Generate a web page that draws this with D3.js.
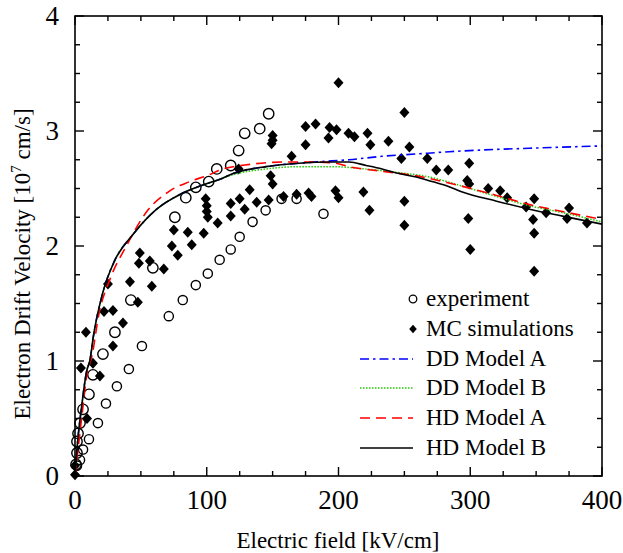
<!DOCTYPE html>
<html>
<head>
<meta charset="utf-8">
<script src="https://cdn.jsdelivr.net/npm/d3@7"></script>
<style>
  html, body { margin: 0; padding: 0; background: #fff; }
  svg { display: block; font-family: "Liberation Serif", "Times New Roman", serif; }
</style>
</head>
<body>
<svg id="chart" width="623" height="553"></svg>
<script>
// experiment, upper branch
const expUpperX = [0.8, 1.5, 1.5, 2.3, 3.8, 6.1, 10.6, 13.6, 21.2, 30.3, 42.4, 59.1, 75.8, 84.1, 91.7, 101.5, 107.6, 118.2, 124.2, 128.8, 140.2, 147.0];
const expUpperY = [0.10, 0.20, 0.30, 0.37, 0.46, 0.58, 0.71, 0.88, 1.06, 1.25, 1.53, 1.81, 2.25, 2.42, 2.51, 2.56, 2.67, 2.70, 2.83, 2.98, 3.02, 3.15];
// experiment, lower branch
const expLowerX = [1.5, 3.8, 6.1, 10.6, 17.4, 23.5, 31.8, 40.9, 50.8, 71.2, 81.8, 91.7, 100.8, 109.8, 118.2, 125.0, 134.8, 144.7, 156.8, 168.2, 188.6];
const expLowerY = [0.09, 0.14, 0.23, 0.32, 0.46, 0.63, 0.78, 0.93, 1.13, 1.39, 1.53, 1.66, 1.76, 1.88, 1.97, 2.08, 2.21, 2.31, 2.41, 2.41, 2.28];

// MC simulations
const mcX = [0, 0, 9.1, 4.5, 13.6, 18.9, 8.3, 28.8, 36.4, 22.0, 28.8, 25.0, 47.7, 41.7, 58.3, 49.2, 48.5, 56.8, 67.4, 73.5,
  78.0, 88.6, 75.0, 85.6, 97.7, 99.2, 100.0, 100.0, 100.8, 108.3, 118.2, 128.8, 118.2, 125.0, 132.6, 137.9, 147.0, 124.2, 148.5, 150.0,
  150.0, 150.0, 149.2, 158.3, 164.4, 168.2, 177.3, 179.5, 175.0, 182.6, 175.0, 193.2, 198.5, 192.4, 200.0, 197.7, 200.0, 207.6, 212.1, 222.0,
  224.2, 218.9, 223.5, 237.9, 250.0, 253.8, 247.7, 250.0, 250.0, 267.4, 274.2, 283.3, 299.2, 297.7, 299.2, 298.5, 300.0, 313.6, 322.7, 328.0,
  342.4, 348.5, 347.7, 348.5, 348.5, 357.6, 373.5, 375.0, 388.6];
const mcY = [0.01, 0.09, 0.50, 0.94, 0.98, 0.87, 1.25, 1.13, 1.33, 1.43, 1.44, 1.67, 1.51, 1.69, 1.65, 1.94, 1.85, 1.87, 1.80, 2.00,
  1.92, 2.01, 2.14, 2.12, 2.11, 2.41, 2.35, 2.30, 2.25, 2.20, 2.26, 2.32, 2.37, 2.41, 2.49, 2.38, 2.40, 2.67, 2.61, 2.54,
  2.96, 2.92, 2.89, 2.43, 2.78, 2.45, 2.46, 2.43, 3.04, 3.06, 2.88, 3.03, 3.01, 2.94, 3.42, 2.48, 2.42, 2.98, 2.95, 2.98,
  2.88, 2.47, 2.31, 2.91, 3.16, 2.86, 2.76, 2.39, 2.18, 2.76, 2.66, 2.66, 2.72, 2.57, 2.54, 2.24, 1.97, 2.50, 2.48, 2.42,
  2.34, 2.41, 2.23, 2.11, 1.78, 2.29, 2.24, 2.33, 2.20];

// model curves
const hdBX = [0, 2, 5, 8.8, 11.4, 13.9, 21, 30, 44, 62, 80, 97, 112, 120, 145, 170, 195, 208, 221, 233, 246, 259, 271, 283, 294, 320, 345, 370, 400];
const hdBY = [0, 0.3, 0.6, 0.91, 1.01, 1.21, 1.59, 1.87, 2.1, 2.32, 2.45, 2.53, 2.59, 2.63, 2.69, 2.72, 2.73, 2.73, 2.70, 2.67, 2.63, 2.60, 2.56, 2.52, 2.47, 2.39, 2.32, 2.26, 2.19];
const hdAX = [0, 5, 9, 13, 18, 26.5, 39, 54.5, 72, 87, 102, 110, 133, 158, 183, 198, 208, 233, 259, 283, 320, 345, 370, 400];
const hdAY = [0, 0.5, 0.88, 1.05, 1.4, 1.71, 2.0, 2.3, 2.48, 2.56, 2.62, 2.66, 2.71, 2.73, 2.73, 2.72, 2.69, 2.65, 2.61, 2.55, 2.44, 2.36, 2.30, 2.23];
const ddAX = [0, 2, 5, 8.8, 11.4, 13.9, 21, 30, 44, 62, 80, 97, 112, 120, 145, 170, 195, 208, 233, 259, 284, 320, 345, 370, 400];
const ddAY = [0, 0.3, 0.6, 0.91, 1.01, 1.21, 1.59, 1.87, 2.1, 2.32, 2.45, 2.53, 2.59, 2.63, 2.69, 2.72, 2.74, 2.75, 2.78, 2.80, 2.82, 2.84, 2.85, 2.86, 2.87];
const ddBX = [0, 2, 5, 8.8, 11.4, 13.9, 21, 30, 44, 62, 80, 97, 112, 120, 145, 170, 195, 220, 244, 269, 294, 320, 345, 370, 400];
const ddBY = [0, 0.3, 0.6, 0.91, 1.01, 1.21, 1.59, 1.87, 2.1, 2.32, 2.45, 2.53, 2.59, 2.62, 2.67, 2.69, 2.69, 2.67, 2.64, 2.60, 2.52, 2.43, 2.35, 2.29, 2.21];

const xTicks = [0, 100, 200, 300, 400];
const yTicks = [0, 1, 2, 3, 4];
const legendLabels = ["experiment", "MC simulations", "DD Model A", "DD Model B", "HD Model A", "HD Model B"];

const svg = d3.select("#chart");
const plotLeft = 75, plotRight = 602, plotTop = 16, plotBottom = 476;

const x = d3.scaleLinear().domain([0, 400]).range([plotLeft, plotRight]);
const y = d3.scaleLinear().domain([0, 4]).range([plotBottom, plotTop]);

const plot = svg.append("g");

// markers
const diamond = (cx, cy, w, h) => `M${cx},${cy - h}L${cx + w},${cy}L${cx},${cy + h}L${cx - w},${cy}Z`;

plot.append("g")
  .selectAll("path")
  .data(d3.range(mcX.length))
  .join("path")
  .attr("d", (i) => diamond(x(mcX[i]), y(mcY[i]), 5, 5.5))
  .attr("fill", "#000");

plot.append("g")
  .selectAll("circle")
  .data(d3.range(expUpperX.length))
  .join("circle")
  .attr("cx", (i) => x(expUpperX[i]))
  .attr("cy", (i) => y(expUpperY[i]))
  .attr("r", 5.2)
  .attr("fill", "none")
  .attr("stroke", "#000")
  .attr("stroke-width", 1.4);

plot.append("g")
  .selectAll("circle")
  .data(d3.range(expLowerX.length))
  .join("circle")
  .attr("cx", (i) => x(expLowerX[i]))
  .attr("cy", (i) => y(expLowerY[i]))
  .attr("r", 4.6)
  .attr("fill", "none")
  .attr("stroke", "#000")
  .attr("stroke-width", 1.4);

// curves
const curves = [
  { xs: ddAX, ys: ddAY, color: "#0000ff", dash: "9,4,2.5,4", width: 1.6 },
  { xs: ddBX, ys: ddBY, color: "#22cc00", dash: "1.5,1.5", width: 1.5 },
  { xs: hdAX, ys: hdAY, color: "#ff0000", dash: "10,6", width: 1.6 },
  { xs: hdBX, ys: hdBY, color: "#000000", dash: null, width: 1.6 }
];

const line = d3.line()
  .x((d) => x(d[0]))
  .y((d) => y(d[1]))
  .curve(d3.curveMonotoneX);

curves.forEach((c) => {
  plot.append("path")
    .datum(c.xs.map((v, i) => [v, c.ys[i]]))
    .attr("fill", "none")
    .attr("stroke", c.color)
    .attr("stroke-width", c.width)
    .attr("stroke-dasharray", c.dash)
    .attr("d", line);
});

// frame and inward ticks
svg.append("rect")
  .attr("x", plotLeft).attr("y", plotTop)
  .attr("width", plotRight - plotLeft).attr("height", plotBottom - plotTop)
  .attr("fill", "none").attr("stroke", "#000").attr("stroke-width", 1.6);

const ticks = svg.append("g").attr("stroke", "#000").attr("stroke-width", 1.4);
d3.range(0, 401, 25).forEach((v) => {
  const len = v % 100 === 0 ? 9 : 5;
  ticks.append("line").attr("x1", x(v)).attr("x2", x(v)).attr("y1", plotBottom).attr("y2", plotBottom - len);
  ticks.append("line").attr("x1", x(v)).attr("x2", x(v)).attr("y1", plotTop).attr("y2", plotTop + len);
});
d3.range(0, 17).map((k) => k * 0.25).forEach((v) => {
  const len = Number.isInteger(v) ? 9 : 5;
  ticks.append("line").attr("y1", y(v)).attr("y2", y(v)).attr("x1", plotLeft).attr("x2", plotLeft + len);
  ticks.append("line").attr("y1", y(v)).attr("y2", y(v)).attr("x1", plotRight).attr("x2", plotRight - len);
});

// tick labels
svg.append("g")
  .selectAll("text")
  .data(xTicks)
  .join("text")
  .attr("x", (d) => x(d))
  .attr("y", 509)
  .attr("text-anchor", "middle")
  .attr("font-size", 27)
  .text((d) => d);

svg.append("g")
  .selectAll("text")
  .data(yTicks)
  .join("text")
  .attr("x", 59)
  .attr("y", (d) => y(d) + 9)
  .attr("text-anchor", "end")
  .attr("font-size", 27)
  .text((d) => d);

// axis titles
svg.append("text")
  .attr("x", 338)
  .attr("y", 548)
  .attr("text-anchor", "middle")
  .attr("font-size", 23)
  .text("Electric field [kV/cm]");

const yTitle = svg.append("text")
  .attr("transform", "translate(30,264) rotate(-90)")
  .attr("text-anchor", "middle")
  .attr("font-size", 23);
yTitle.append("tspan").text("Electron Drift Velocity [10");
yTitle.append("tspan").attr("font-size", 15).attr("dy", -9).text("7");
yTitle.append("tspan").attr("dy", 9).text(" cm/s]");

// legend
const legend = svg.append("g");
const rowY = [299, 329, 359, 388, 418, 448];
legendLabels.forEach((label, i) => {
  legend.append("text")
    .attr("x", 426)
    .attr("y", rowY[i] + 7)
    .attr("font-size", 23)
    .text(label);
});
legend.append("circle").attr("cx", 413).attr("cy", rowY[0]).attr("r", 3.8)
  .attr("fill", "none").attr("stroke", "#000").attr("stroke-width", 1.3);
legend.append("path").attr("d", diamond(413, rowY[1], 3.8, 4.2)).attr("fill", "#000");
curves.forEach((c, i) => {
  legend.append("line")
    .attr("x1", 360).attr("x2", 413)
    .attr("y1", rowY[i + 2]).attr("y2", rowY[i + 2])
    .attr("stroke", c.color)
    .attr("stroke-width", c.width)
    .attr("stroke-dasharray", c.dash);
});
</script>
</body>
</html>
